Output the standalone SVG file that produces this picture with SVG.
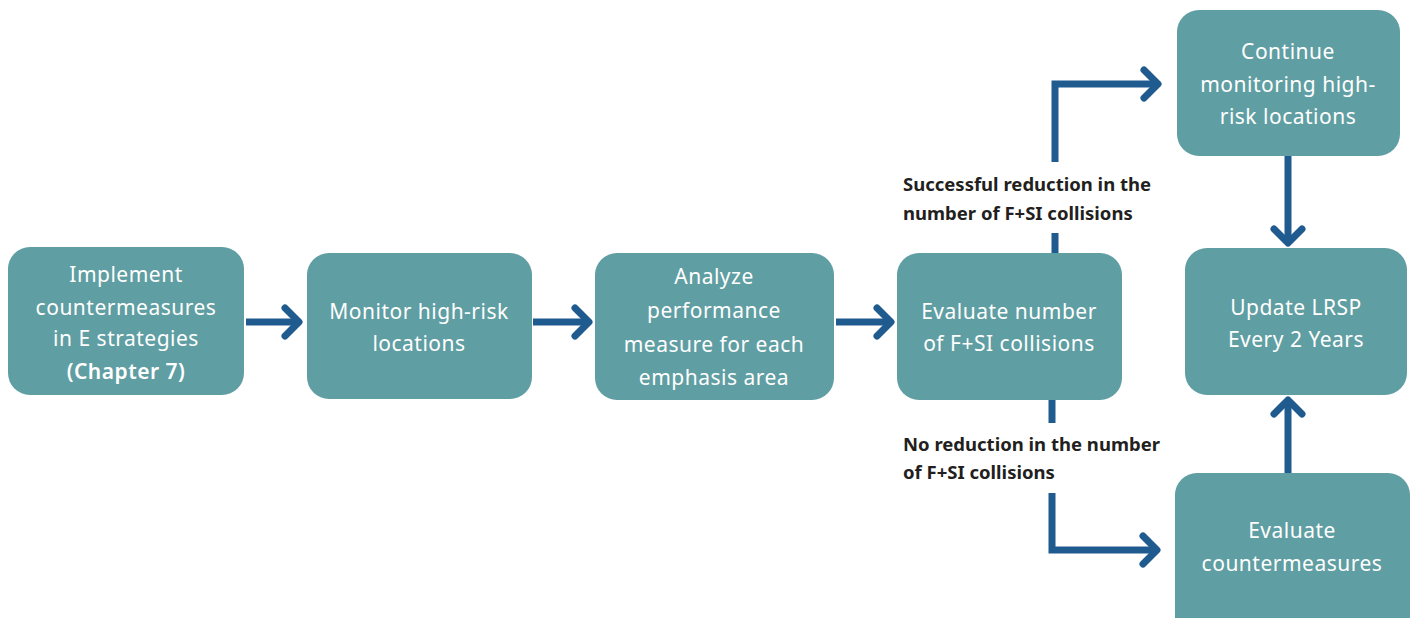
<svg xmlns="http://www.w3.org/2000/svg" width="1421" height="618" viewBox="0 0 1421 618">
<defs>
<style>
.node rect{fill:#5f9ea2;}
.node text{fill:#ffffff;font-family:"Noto Sans","DejaVu Sans",sans-serif;font-size:21px;letter-spacing:0.5px;text-anchor:middle;}
.lbl{fill:#231f20;font-family:"Noto Sans","DejaVu Sans",sans-serif;font-size:18.5px;font-weight:bold;}
.conn path{fill:none;stroke:#1f5b8e;stroke-width:7;stroke-linejoin:miter;}
</style>
<marker id="ah" markerUnits="userSpaceOnUse" viewBox="-20 -20 30 40" markerWidth="30" markerHeight="40" refX="0" refY="0" orient="auto">
<path d="M-14,-14 L0,0 L-14,14" fill="none" stroke="#1f5b8e" stroke-width="7" stroke-linecap="round" stroke-linejoin="round"/>
</marker>
</defs>
<rect width="1421" height="618" fill="#ffffff"/>
<g id="connectors" class="conn">
<path d="M246,322 H299" marker-end="url(#ah)"/>
<path d="M533,322 H589" marker-end="url(#ah)"/>
<path d="M836,322 H891" marker-end="url(#ah)"/>
<path d="M1055,253 V233"/>
<path d="M1055,162 V84 H1158" marker-end="url(#ah)"/>
<path d="M1052,400 V423"/>
<path d="M1052,493 V550 H1157" marker-end="url(#ah)"/>
<path d="M1288,156 V243" marker-end="url(#ah)"/>
<path d="M1288,473 V400" marker-end="url(#ah)"/>
</g>
<g id="node-implement" class="node">
<rect x="8" y="247" width="236" height="148" rx="22"/>
<text x="126" y="282">Implement</text>
<text x="126" y="315">countermeasures</text>
<text x="126" y="346">in E strategies</text>
<text x="126" y="379" font-weight="600">(Chapter 7)</text>
</g>
<g id="node-monitor" class="node">
<rect x="307" y="253" width="225" height="146" rx="22"/>
<text x="419" y="319">Monitor high-risk</text>
<text x="419" y="351">locations</text>
</g>
<g id="node-analyze" class="node">
<rect x="595" y="253" width="239" height="147" rx="22"/>
<text x="714" y="284">Analyze</text>
<text x="714" y="318">performance</text>
<text x="714" y="352">measure for each</text>
<text x="714" y="385">emphasis area</text>
</g>
<g id="node-evaluate-number" class="node">
<rect x="897" y="253" width="225" height="147" rx="22"/>
<text x="1009" y="319">Evaluate number</text>
<text x="1009" y="351">of F+SI collisions</text>
</g>
<g id="node-continue" class="node">
<rect x="1177" y="10" width="223" height="146" rx="22"/>
<text x="1288" y="59">Continue</text>
<text x="1288" y="92">monitoring high-</text>
<text x="1288" y="124">risk locations</text>
</g>
<g id="node-update" class="node">
<rect x="1185" y="248" width="222" height="147" rx="22"/>
<text x="1296" y="315">Update LRSP</text>
<text x="1296" y="347">Every 2 Years</text>
</g>
<g id="node-evaluate-cm" class="node">
<rect x="1175" y="473" width="235" height="170" rx="22"/>
<text x="1292" y="538">Evaluate</text>
<text x="1292" y="571">countermeasures</text>
</g>
<g id="labels">
<text class="lbl" x="903" y="191">Successful reduction in the</text>
<text class="lbl" x="903" y="220">number of F+SI collisions</text>
<text class="lbl" x="903" y="451">No reduction in the number</text>
<text class="lbl" x="903" y="479">of F+SI collisions</text>
</g>
</svg>
